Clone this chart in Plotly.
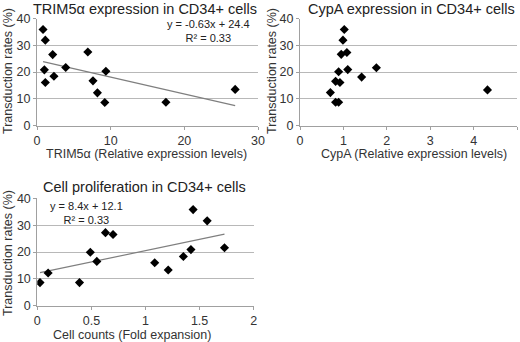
import plotly.graph_objects as go

# Panel 1: TRIM5a
trim_x = [0.82, 1.13, 1.0, 1.13, 2.13, 2.3, 3.9, 6.9, 7.6, 8.2, 9.2, 9.35, 17.5, 26.9]
trim_y = [35.9, 31.9, 20.8, 16.1, 26.5, 18.4, 21.7, 27.5, 16.7, 12.2, 8.6, 20.3, 8.7, 13.5]
trim_fit = (-0.63, 24.4)

# Panel 2: CypA
cypa_x = [1.02, 0.99, 0.95, 1.08, 0.89, 1.1, 0.82, 0.92, 1.42, 1.76, 0.70, 0.82, 0.89, 4.32]
cypa_y = [35.9, 31.9, 26.6, 27.3, 20.1, 20.9, 16.5, 16.1, 18.1, 21.6, 12.3, 8.7, 8.7, 13.3]

# Panel 3: Cell proliferation
prol_x = [0.025, 0.10, 0.39, 0.49, 0.55, 0.63, 0.70, 1.085, 1.21, 1.35, 1.42, 1.44, 1.57, 1.73]
prol_y = [8.6, 12.2, 8.6, 19.9, 16.5, 27.2, 26.5, 16.0, 13.3, 18.3, 20.9, 35.8, 31.6, 21.6]
prol_fit = (8.4, 12.1)

titles = ["TRIM5α expression in CD34+ cells", "CypA expression in CD34+ cells",
          "Cell proliferation in CD34+ cells"]
xtitles = ["TRIM5α (Relative expression levels)", "CypA (Relative expression levels)",
           "Cell counts (Fold expansion)"]
ytitle = "Transduction rates (%)"

FONT = "Liberation Sans, Arial, sans-serif"
W, H = 520, 342

fig = go.Figure()

mk = dict(symbol="diamond", size=7, color="black")

def add_fit(xs, fit, xa, ya):
    lo, hi = min(xs), max(xs)
    fig.add_trace(go.Scatter(x=[lo, hi], y=[fit[0] * lo + fit[1], fit[0] * hi + fit[1]],
                             mode="lines", line=dict(color="#7f7f7f", width=1.2),
                             xaxis=xa, yaxis=ya, showlegend=False, hoverinfo="skip"))

add_fit(trim_x, trim_fit, "x", "y")
fig.add_trace(go.Scatter(x=trim_x, y=trim_y, mode="markers", marker=mk, xaxis="x", yaxis="y", showlegend=False))
fig.add_trace(go.Scatter(x=cypa_x, y=cypa_y, mode="markers", marker=mk, xaxis="x2", yaxis="y2", showlegend=False))
add_fit(prol_x, prol_fit, "x3", "y3")
fig.add_trace(go.Scatter(x=prol_x, y=prol_y, mode="markers", marker=mk, xaxis="x3", yaxis="y3", showlegend=False))

def px_x(p):
    return p / W

def px_y(p):
    return 1 - p / H

axcommon = dict(showline=True, linecolor="#a0a0a0", linewidth=1, ticks="outside",
                ticklen=3, tickcolor="#a0a0a0", zeroline=False, automargin=False,
                tickfont=dict(family=FONT, size=12.5, color="#333"))
ycommon = dict(axcommon, range=[0, 40], dtick=10, showgrid=True, gridcolor="#b8b8b8")

def xcommon(rng, dtick):
    return dict(axcommon, range=rng, dtick=dtick, showgrid=False)

fig.update_layout(
    template="none",
    width=W, height=H, margin=dict(l=0, r=0, t=0, b=0, autoexpand=False),
    paper_bgcolor="white", plot_bgcolor="white",
    xaxis=dict(xcommon([0, 30], 10), domain=[px_x(37), px_x(258)], anchor="y"),
    yaxis=dict(ycommon, domain=[px_y(125.5), px_y(18.5)], anchor="x"),
    xaxis2=dict(xcommon([0, 5], 1), domain=[px_x(300), px_x(517)], anchor="y2"),
    yaxis2=dict(ycommon, domain=[px_y(125.5), px_y(18.5)], anchor="x2"),
    xaxis3=dict(xcommon([0, 2], 0.5), domain=[px_x(37.3), px_x(253.7)], anchor="y3"),
    yaxis3=dict(ycommon, domain=[px_y(305.7), px_y(198.3)], anchor="x3"),
)

tfont = dict(family=FONT, size=14.5, color="#222")
afont = dict(family=FONT, size=12.5, color="#333")
efont = dict(family=FONT, size=11, color="#222")

def ann(text, x, y, font, angle=0):
    return dict(text=text, x=px_x(x), y=px_y(y), xref="paper", yref="paper", showarrow=False,
                font=font, xanchor="center", yanchor="middle", textangle=angle, align="center")

annots = [
    ann(titles[0], 145, 9, tfont),
    ann(titles[1], 411, 9, tfont),
    ann(titles[2], 144, 187, tfont),
    ann(xtitles[0], 146, 154, afont),
    ann(xtitles[1], 414, 154, afont),
    ann(xtitles[2], 132, 335, afont),
    ann(ytitle, 8, 71, afont, -90),
    ann(ytitle, 272, 71, afont, -90),
    ann(ytitle, 8, 253, afont, -90),
    ann("y = -0.63x + 24.4<br>R² = 0.33", 208, 31, efont),
    ann("y = 8.4x + 12.1<br>R² = 0.33", 86, 213, efont),
]
fig.update_layout(annotations=annots)

fig.write_html("out.html", config={"displayModeBar": False},
               post_script="document.body.style.margin='0';document.body.style.overflow='hidden';")
